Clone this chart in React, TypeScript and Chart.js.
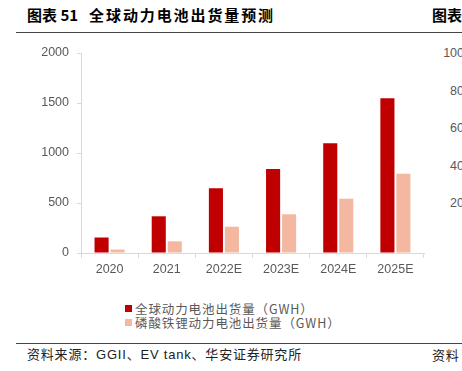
import React, { useEffect, useRef } from 'react';
import { Chart, registerables } from 'chart.js';

Chart.register(...registerables);

const categories = ['2020', '2021', '2022E', '2023E', '2024E', '2025E'];
const globalShipments = [155, 367, 647, 840, 1097, 1547];
const lfpShipments = [35, 117, 263, 387, 543, 793];
const yTicks = [0, 500, 1000, 1500, 2000];
const seriesLabels = ['全球动力电池出货量（GWH）', '磷酸铁锂动力电池出货量（GWH）'];
const seriesColors = ['#C00000', '#F4B8A0'];
const rightChartTicks = ['100', '80', '60', '40', '20'];

const titleNo = '图表 51';
const titleText = '全球动力电池出货量预测';
const sourceText = '资料来源：GGII、EV tank、华安证券研究所';

const tickFont = { family: '"Liberation Sans", Arial, sans-serif', size: 12.5 };
const tickColor = '#595959';
const axisColor = '#D9D9D9';

export default function App() {
  const canvasRef = useRef<HTMLCanvasElement | null>(null);

  useEffect(() => {
    const canvas = canvasRef.current;
    if (!canvas) return;
    const chart = new Chart(canvas, {
      type: 'bar',
      data: {
        labels: categories,
        datasets: [
          {
            label: seriesLabels[0],
            data: globalShipments,
            backgroundColor: seriesColors[0],
            categoryPercentage: 0.56,
            barPercentage: 0.88,
          },
          {
            label: seriesLabels[1],
            data: lfpShipments,
            backgroundColor: seriesColors[1],
            categoryPercentage: 0.56,
            barPercentage: 0.88,
          },
        ],
      },
      options: {
        responsive: false,
        animation: false,
        devicePixelRatio: 1,
        layout: { padding: { top: 53, right: 38, left: 0, bottom: 0 } },
        plugins: {
          legend: { display: false },
          tooltip: { enabled: false },
          title: { display: false },
        },
        scales: {
          x: {
            offset: true,
            grid: {
              display: true,
              offset: true,
              drawOnChartArea: false,
              drawTicks: true,
              tickLength: 5,
              color: axisColor,
            },
            border: { display: true, color: axisColor },
            ticks: { color: tickColor, font: tickFont, padding: 4, maxRotation: 0 },
            afterFit: (scale: any) => {
              scale.height = 30;
            },
          },
          y: {
            min: yTicks[0],
            max: yTicks[yTicks.length - 1],
            grid: {
              display: true,
              drawOnChartArea: false,
              drawTicks: true,
              tickLength: 4,
              color: axisColor,
            },
            border: { display: true, color: axisColor },
            ticks: {
              stepSize: yTicks[1] - yTicks[0],
              color: tickColor,
              font: tickFont,
              padding: 8,
              callback: (v: any) => String(v),
            },
            afterFit: (scale: any) => {
              scale.width = 81;
            },
          },
        },
      },
    });
    return () => chart.destroy();
  }, []);

  const cjk = '"Noto Sans CJK SC", "Liberation Sans", sans-serif';

  return (
    <div
      style={{
        position: 'fixed',
        left: 0,
        top: 0,
        width: 462,
        height: 371,
        overflow: 'hidden',
        background: '#fff',
      }}
    >
      {/* title */}
      <div
        style={{
          position: 'absolute',
          left: 27,
          top: 5,
          height: 20,
          lineHeight: '20px',
          fontFamily: cjk,
          fontWeight: 700,
          fontSize: 15,
          color: '#000',
          whiteSpace: 'nowrap',
        }}
      >
        <span>{titleNo}</span>
        <span style={{ marginLeft: 11, letterSpacing: 1.9 }}>{titleText}</span>
      </div>
      <div
        style={{
          position: 'absolute',
          left: 432,
          top: 5,
          lineHeight: '20px',
          fontFamily: cjk,
          fontWeight: 700,
          fontSize: 15,
          color: '#000',
          whiteSpace: 'nowrap',
        }}
      >
        图表
      </div>
      <div style={{ position: 'absolute', left: 16, right: 0, top: 32, height: 1, background: '#444' }} />

      {/* right neighbour chart axis fragment */}
      {rightChartTicks.map((t, i) => (
        <div
          key={t}
          style={{
            position: 'absolute',
            left: 400,
            width: 64,
            textAlign: 'right',
            top: 53 + i * 37.5 - 8,
            height: 16,
            lineHeight: '16px',
            fontFamily: '"Liberation Sans", Arial, sans-serif',
            fontSize: 12.5,
            color: tickColor,
          }}
        >
          {t}
        </div>
      ))}

      <canvas
        ref={canvasRef}
        width={462}
        height={283}
        style={{ position: 'absolute', left: 0, top: 0, width: 462, height: 283 }}
      />

      {/* legend */}
      {seriesLabels.map((lab, i) => (
        <div
          key={lab}
          style={{
            position: 'absolute',
            left: 125,
            top: 300.5 + i * 14.7,
            height: 15,
            display: 'flex',
            alignItems: 'center',
            whiteSpace: 'nowrap',
          }}
        >
          <span style={{ display: 'inline-block', width: 7, height: 7, background: seriesColors[i] }} />
          <span
            style={{
              marginLeft: 3,
              fontFamily: cjk,
              fontSize: 12.5,
              lineHeight: '15px',
              color: tickColor,
              letterSpacing: 0.9,
            }}
          >
            {lab}
          </span>
        </div>
      ))}

      <div style={{ position: 'absolute', left: 16, right: 0, top: 343, height: 1, background: '#444' }} />
      <div
        style={{
          position: 'absolute',
          left: 27,
          top: 347,
          lineHeight: '16px',
          fontFamily: '"Liberation Sans", "Noto Sans CJK SC", sans-serif',
          fontSize: 13,
          color: '#222',
          letterSpacing: 0.8,
          whiteSpace: 'nowrap',
        }}
      >
        {sourceText}
      </div>
      <div
        style={{
          position: 'absolute',
          left: 432,
          top: 347,
          lineHeight: '16px',
          fontFamily: cjk,
          fontSize: 13,
          color: '#222',
          letterSpacing: 0.8,
          whiteSpace: 'nowrap',
        }}
      >
        资料
      </div>
    </div>
  );
}
